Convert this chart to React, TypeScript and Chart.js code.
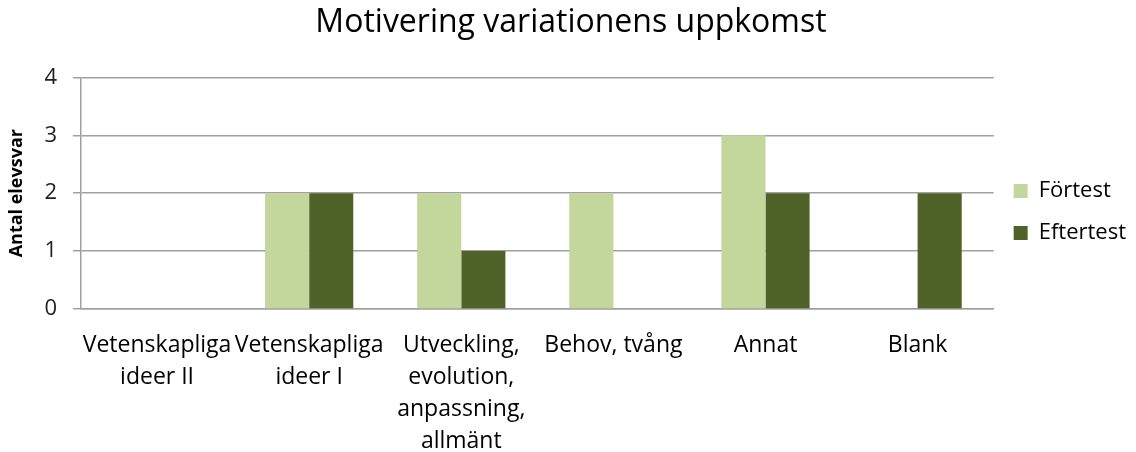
import React, { useEffect, useRef } from "react";
import { Chart, registerables } from "chart.js";

Chart.register(...registerables);

const categories: (string | string[])[] = [
  ["Vetenskapliga", "ideer II"],
  ["Vetenskapliga", "ideer I"],
  ["Utveckling,", "evolution,", "anpassning,", "allmänt"],
  "Behov, tvång",
  "Annat",
  "Blank",
];
const fortest = [0, 2, 2, 2, 3, 0];
const eftertest = [0, 2, 1, 0, 2, 2];
const seriesNames = ["Förtest", "Eftertest"];
const yTicks = [0, 1, 2, 3, 4];

const FONT = "'Open Sans', 'Noto Sans', sans-serif";

export default function App() {
  const ref = useRef<HTMLCanvasElement>(null);
  useEffect(() => {
    document.body.style.margin = "0";
    const chart = new Chart(ref.current!, {
      type: "bar",
      data: {
        labels: categories,
        datasets: [
          {
            label: seriesNames[0],
            data: fortest,
            backgroundColor: "#C3D69B",
            borderWidth: 0,
          },
          {
            label: seriesNames[1],
            data: eftertest,
            backgroundColor: "#4F6228",
            borderWidth: 0,
          },
        ],
      },
      options: {
        animation: false,
        responsive: false,
        maintainAspectRatio: false,
        layout: { padding: { top: 0, right: 0, bottom: 0, left: 6 } },
        datasets: { bar: { categoryPercentage: 0.58, barPercentage: 1 } },
        plugins: {
          title: {
            display: true,
            text: "Motivering variationens uppkomst",
            font: { family: FONT, size: 32, weight: "normal" },
            color: "#000",
            padding: { top: 4, bottom: 35 },
          },
          legend: {
            position: "right",
            align: "start",
            title: {
              display: true,
              text: " ",
              font: { family: FONT, size: 10 },
              padding: { top: 79, bottom: 69 },
            },
            labels: {
              font: { family: FONT, size: 22 },
              color: "#000",
              boxWidth: 14,
              boxHeight: 14,
              padding: 20,
            },
          },
          tooltip: { enabled: false },
        },
        scales: {
          x: {
            grid: { display: false, drawTicks: false },
            border: { display: true, color: "#A0A0A0", width: 1.5 },
            ticks: {
              font: { family: FONT, size: 23, lineHeight: 1.4 },
              color: "#000",
              maxRotation: 0,
              minRotation: 0,
              autoSkip: false,
              padding: 20,
            },
            afterFit: (s: any) => {
              s.height = 143;
            },
          },
          y: {
            min: 0,
            max: 4,
            afterBuildTicks: (s: any) => {
              s.ticks = yTicks.map((v) => ({ value: v }));
            },
            grid: {
              color: "#A0A0A0",
              lineWidth: 1.5,
              tickLength: 8,
            },
            border: { display: true, color: "#A0A0A0", width: 1.5 },
            ticks: {
              font: { family: FONT, size: 22 },
              color: "#222",
              padding: 16,
            },
            title: {
              display: true,
              text: "Antal elevsvar",
              font: { family: FONT, size: 18, weight: "bold" },
              color: "#000",
              padding: { top: 0, bottom: 4 },
            },
            afterFit: (s: any) => {
              s.width = 75;
            },
          },
        },
      },
    });
    return () => chart.destroy();
  }, []);
  return (
    <div style={{ width: 1136, height: 452 }}>
      <canvas ref={ref} width={1136} height={452} />
    </div>
  );
}
